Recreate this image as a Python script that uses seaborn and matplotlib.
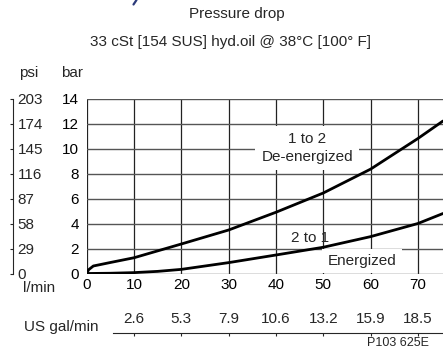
import numpy as np
import pandas as pd
import matplotlib
matplotlib.use("Agg")
import matplotlib.pyplot as plt
from matplotlib.lines import Line2D
import seaborn as sns

sns.set_style("white")
plt.rcParams['font.family'] = ['Liberation Sans', 'DejaVu Sans']

# ---------------- data ----------------
flow_12 = [0, 0.4, 1.4, 5, 10, 20, 30, 40, 50, 60, 70, 75.3]          # l/min
dp_12   = [0, 0.3, 0.6, 0.88, 1.26, 2.36, 3.48, 4.9, 6.44, 8.35, 10.8, 12.2]  # bar
flow_21 = [0, 5, 10, 15, 20, 30, 40, 50, 60, 70, 75.3]
dp_21   = [0, 0.02, 0.07, 0.17, 0.33, 0.87, 1.48, 2.1, 2.95, 4.0, 4.8]

bar_ticks  = [0, 2, 4, 6, 8, 10, 12, 14]
psi_labels = ["0", "29", "58", "87", "116", "145", "174", "203"]
flow_ticks = [0, 10, 20, 30, 40, 50, 60, 70]
gal_ticks  = [10, 20, 30, 40, 50, 60, 70]
gal_labels = ["2.6", "5.3", "7.9", "10.6", "13.2", "15.9", "18.5"]

XMAX = 75.3
FS = 11

# ---------------- layout helpers (pixels -> figure fraction) ----------------
W, H = 443, 348
def fx(px):
    return px / W
def fy(py):
    return 1 - py / H

fig = plt.figure(figsize=(W / 100, H / 100), dpi=100)

ax = fig.add_axes([fx(86.7), fy(273.5), fx(443) - fx(86.7), fy(98.5) - fy(273.5)])
ax.set_xlim(0, XMAX)
ax.set_ylim(0, 14)
ax.set_xticks(flow_ticks)
ax.set_yticks(bar_ticks)
ax.tick_params(length=0, labelsize=FS, colors='black')
ax.tick_params(axis='y', pad=5.5)
ax.tick_params(axis='x', pad=3.5)
for s in ax.spines.values():
    s.set_visible(False)
ax.grid(axis='y', color='#555555', lw=1.0)
ax.grid(axis='x', color='#222222', lw=0.9)
ax.set_axisbelow(True)

curves = pd.DataFrame({
    "flow": flow_12 + flow_21,
    "dp": dp_12 + dp_21,
    "dir": ["1 to 2"] * len(flow_12) + ["2 to 1"] * len(flow_21),
})
sns.lineplot(data=curves, x="flow", y="dp", units="dir", estimator=None,
             color='black', lw=2.0, sort=False, ax=ax, legend=False)
ax.set_xlabel("")
ax.set_ylabel("")

ax.text(46.6, 10.04, "1 to 2\nDe-energized", ha='center', va='center',
        fontsize=FS, linespacing=1.35, zorder=4,
        bbox=dict(facecolor='white', edgecolor='none', boxstyle='square,pad=0.4'))
ax.text(47.2, 2.88, "2 to 1", ha='center', va='center', fontsize=FS)
ax.text(58.2, 1.0, "Energized", ha='center', va='center', fontsize=FS, zorder=4,
        bbox=dict(facecolor='white', edgecolor='none', boxstyle='square,pad=0.35'))

# psi scale
pax = fig.add_axes([fx(12.7), fy(273.5), 0.0001, fy(98.5) - fy(273.5)])
pax.set_ylim(0, 14)
pax.set_yticks(bar_ticks)
pax.set_yticklabels(psi_labels)
pax.set_xticks([])
for k, s in pax.spines.items():
    s.set_visible(k == 'left')
pax.spines['left'].set_linewidth(0.8)
pax.tick_params(axis='y', left=True, right=False, labelleft=False, labelright=True,
                length=2, width=0.8, direction='out', pad=1.5, labelsize=FS)
pax.patch.set_alpha(0)

# US gal/min scale
gx0 = XMAX * (113 - 86.7) / (443 - 86.7)
gax = fig.add_axes([fx(113), fy(332.5), fx(443) - fx(113), 0.0001])
gax.set_xlim(gx0, XMAX)
gax.set_xticks(gal_ticks)
gax.set_xticklabels(gal_labels)
gax.set_yticks([])
for k, s in gax.spines.items():
    s.set_visible(k == 'bottom')
gax.spines['bottom'].set_linewidth(0.8)
gax.tick_params(axis='x', bottom=True, top=False, labelbottom=False, labeltop=True,
                length=2, width=0.8, direction='out', pad=2.5, labelsize=FS)
gax.patch.set_alpha(0)

# small fragment of a cropped header glyph at the top edge
fig.add_artist(Line2D([fx(133.5), fx(136.5)], [fy(4.5), fy(0)], color='#2b3a7a', lw=1.6))

# texts
fig.text(fx(237), fy(14), "Pressure drop", ha='center', va='center', fontsize=FS)
fig.text(fx(231), fy(42), "33 cSt [154 SUS] hyd.oil @ 38°C [100° F]",
         ha='center', va='center', fontsize=FS)
fig.text(fx(29), fy(73), "psi", ha='center', va='center', fontsize=FS)
fig.text(fx(72), fy(73), "bar", ha='center', va='center', fontsize=FS)
fig.text(fx(39), fy(288), "l/min", ha='center', va='center', fontsize=FS)
fig.text(fx(61), fy(327), "US gal/min", ha='center', va='center', fontsize=FS)
fig.text(fx(398), fy(342.5), "P103 625E", ha='center', va='center', fontsize=9)

fig.savefig("out.png", dpi=100)
